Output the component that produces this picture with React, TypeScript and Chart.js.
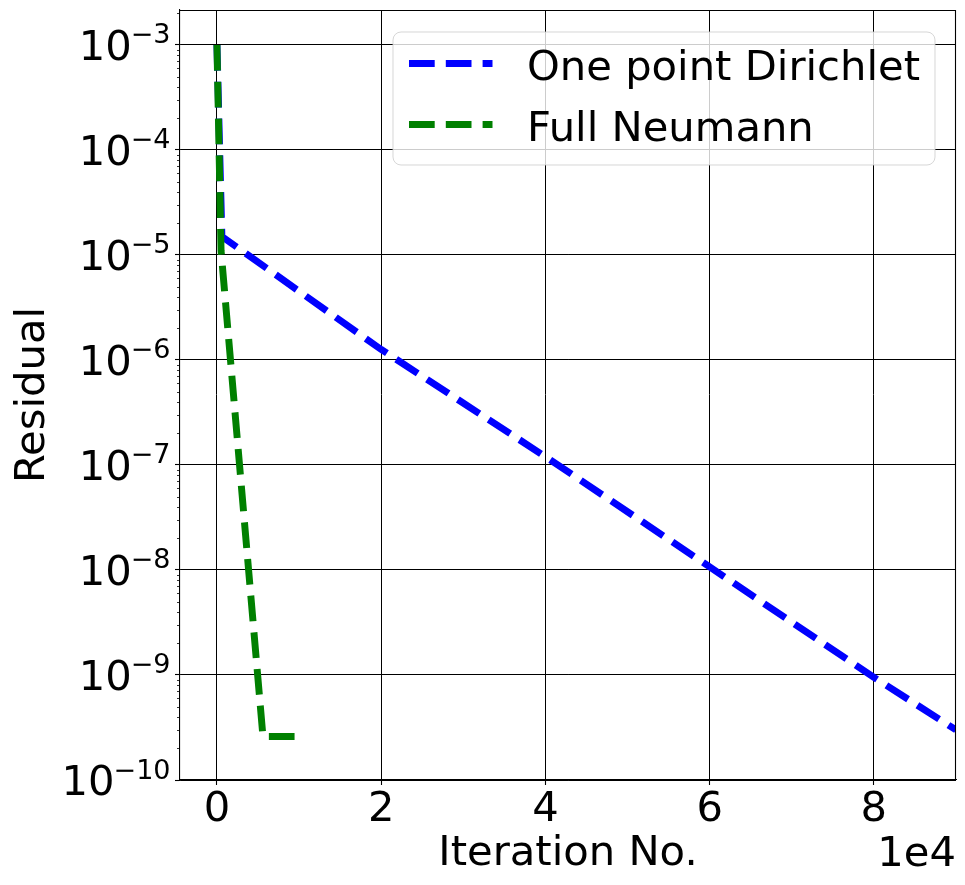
import React, { useEffect, useRef } from 'react';
import { Chart, registerables } from 'chart.js';

Chart.register(...registerables);

const seriesNames = ['One point Dirichlet', 'Full Neumann'];
const seriesColors = ['#0000ff', '#008000'];

const dirichletIter = [0, 600, 20000, 40000, 60000, 80000, 90000];
const dirichletResidual = [1e-3, 1.5e-5, 1.26e-6, 1.2e-7, 1.07e-8, 9.5e-10, 3.0e-10];

const neumannIter = [0, 500, 5600, 10000];
const neumannResidual = [1e-3, 1.1e-5, 2.6e-10, 2.6e-10];

const xTickValues = [0, 20000, 40000, 60000, 80000];
const xTickLabels = ['0', '2', '4', '6', '8'];
const yTickValues = [1e-10, 1e-9, 1e-8, 1e-7, 1e-6, 1e-5, 1e-4, 1e-3];
const yTickBase = '10';
const yTickExponents = ['−10', '−9', '−8', '−7', '−6', '−5', '−4', '−3'];

const xTitle = 'Iteration No.';
const yTitle = 'Residual';
const xOffsetText = '1e4';

const FONT = "'DejaVu Sans', sans-serif";
const FS = 41.7;
const SUP_FS = 27;
const LW = 6.94;
const DASH = [25.7, 11.1];

const extrasPlugin = {
  id: 'extras',
  afterDraw(chart: any) {
    const ctx = chart.ctx;
    const { left, right, top, bottom } = chart.chartArea;
    const yScale = chart.scales.y;
    ctx.save();
    // top and right spines
    ctx.strokeStyle = '#000';
    ctx.lineWidth = 1.1;
    ctx.setLineDash([]);
    ctx.beginPath();
    ctx.moveTo(left, top + 0.5);
    ctx.lineTo(right, top + 0.5);
    ctx.moveTo(right - 0.5, top);
    ctx.lineTo(right - 0.5, bottom);
    ctx.stroke();
    // minor ticks on log axis
    ctx.lineWidth = 0.8;
    ctx.beginPath();
    for (let k = -10; k <= -3; k++) {
      for (let m = 2; m <= 9; m++) {
        const v = m * Math.pow(10, k);
        if (v < yScale.min || v > yScale.max) continue;
        const y = Math.round(yScale.getPixelForValue(v)) + 0.5;
        ctx.moveTo(left - 3, y);
        ctx.lineTo(left, y);
      }
    }
    ctx.stroke();

    // y tick labels: 10 with superscript exponent
    ctx.fillStyle = '#000';
    ctx.textBaseline = 'alphabetic';
    ctx.textAlign = 'left';
    yTickValues.forEach((v, i) => {
      const y = yScale.getPixelForValue(v);
      const exp = yTickExponents[i];
      ctx.font = `${SUP_FS}px ${FONT}`;
      const supW = ctx.measureText(exp).width;
      ctx.font = `${FS}px ${FONT}`;
      const baseW = ctx.measureText(yTickBase).width;
      const endX = left - 9.5;
      const supX = endX - supW;
      const baseX = supX - baseW + 1;
      ctx.fillText(yTickBase, baseX, y + 15.3);
      ctx.font = `${SUP_FS}px ${FONT}`;
      ctx.fillText(exp, supX, y - 1.5);
    });

    // offset text
    ctx.fillStyle = '#000';
    ctx.font = `${FS}px ${FONT}`;
    ctx.textAlign = 'right';
    ctx.textBaseline = 'alphabetic';
    ctx.fillText(xOffsetText, right, 866);

    // legend
    const bx = right - 563.5;
    const by = top + 21.5;
    const bw = 542;
    const bh = 133;
    ctx.beginPath();
    ctx.roundRect(bx + 0.5, by + 0.5, bw, bh, 8);
    ctx.fillStyle = 'rgba(255,255,255,0.8)';
    ctx.fill();
    ctx.strokeStyle = 'rgba(204,204,204,0.8)';
    ctx.lineWidth = 1;
    ctx.stroke();
    chart.data.datasets.forEach((ds: any, i: number) => {
      const rowY = by + 32 + i * 61;
      ctx.beginPath();
      ctx.setLineDash(DASH);
      ctx.lineCap = 'butt';
      ctx.lineWidth = LW;
      ctx.strokeStyle = ds.borderColor;
      ctx.moveTo(bx + 16.5, rowY);
      ctx.lineTo(bx + 100, rowY);
      ctx.stroke();
      ctx.setLineDash([]);
      ctx.fillStyle = '#000';
      ctx.textAlign = 'left';
      ctx.textBaseline = 'alphabetic';
      ctx.fillText(ds.label, bx + 134.5, rowY + 16);
    });
    ctx.restore();
  },
};

export default function App() {
  const ref = useRef<HTMLCanvasElement | null>(null);
  useEffect(() => {
    if (!ref.current) return;
    const chart = new Chart(ref.current, {
      type: 'line',
      data: {
        datasets: [
          {
            label: seriesNames[0],
            data: dirichletIter.map((x, i) => ({ x, y: dirichletResidual[i] })),
            borderColor: seriesColors[0],
            backgroundColor: seriesColors[0],
            borderWidth: LW,
            borderDash: DASH,
            borderCapStyle: 'butt',
            pointRadius: 0,
            fill: false,
            tension: 0,
            order: 1,
          },
          {
            label: seriesNames[1],
            data: neumannIter.map((x, i) => ({ x, y: neumannResidual[i] })),
            borderColor: seriesColors[1],
            backgroundColor: seriesColors[1],
            borderWidth: LW,
            borderDash: DASH,
            borderCapStyle: 'butt',
            pointRadius: 0,
            fill: false,
            tension: 0,
            order: 0,
          },
        ],
      },
      options: {
        responsive: false,
        animation: false,
        devicePixelRatio: 1,
        layout: { padding: { top: 10, right: 9, left: 0, bottom: 0 } },
        plugins: {
          legend: { display: false },
          tooltip: { enabled: false },
        },
        scales: {
          x: {
            type: 'linear',
            min: -4500,
            max: 90000,
            afterBuildTicks: (s: any) => {
              s.ticks = xTickValues.map((v) => ({ value: v }));
            },
            afterFit: (s: any) => {
              s.height = 105;
              s.paddingLeft = 0;
              s.paddingRight = 0;
            },
            ticks: {
              color: '#000',
              font: { family: FONT, size: FS, lineHeight: 1.2 },
              padding: 0,
              maxRotation: 0,
              autoSkip: false,
              callback: (_v: any, i: number) => xTickLabels[i],
            },
            grid: { color: '#000', lineWidth: 1, tickLength: 5, tickColor: '#000', tickWidth: 1.1 },
            border: { display: true, color: '#000', width: 1.1 },
            title: {
              display: true,
              text: xTitle,
              color: '#000',
              font: { family: FONT, size: FS, lineHeight: 1.2 },
              padding: { top: 6, bottom: 6 },
            },
          },
          y: {
            type: 'logarithmic',
            min: 1e-10,
            max: 2.154e-3,
            afterBuildTicks: (s: any) => {
              s.ticks = yTickValues.map((v) => ({ value: v, major: true }));
            },
            afterFit: (s: any) => {
              s.width = 180;
              s.paddingTop = 0;
              s.paddingBottom = 0;
            },
            ticks: {
              display: false,
              autoSkip: false,
            },
            grid: { color: '#000', lineWidth: 1, tickLength: 5, tickColor: '#000', tickWidth: 1.1, drawTicks: true },
            border: { display: true, color: '#000', width: 1.1 },
            title: {
              display: true,
              text: yTitle,
              color: '#000',
              font: { family: FONT, size: FS, lineHeight: 1.2 },
              padding: { top: 8, bottom: 8 },
            },
          },
        },
      },
      plugins: [extrasPlugin],
    } as any);
    return () => chart.destroy();
  }, []);
  return (
    <div style={{ position: 'fixed', left: 0, top: 0, width: 965, height: 885, background: '#fff' }}>
      <canvas ref={ref} width={965} height={885} />
    </div>
  );
}
